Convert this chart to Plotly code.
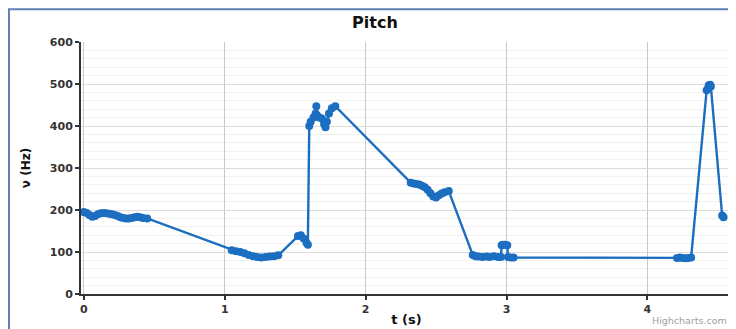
import plotly.graph_objects as go

# ---- data ----
t_s = [
    0.00, 0.02, 0.04, 0.06, 0.08, 0.10, 0.12, 0.14, 0.16, 0.18, 0.20, 0.22,
    0.24, 0.26, 0.28, 0.30, 0.32, 0.34, 0.36, 0.38, 0.40, 0.42, 0.45,
    1.05, 1.08, 1.11, 1.14, 1.17, 1.20, 1.23, 1.26, 1.29, 1.32, 1.35, 1.38,
    1.52, 1.54, 1.56, 1.58, 1.59,
    1.60, 1.61, 1.63, 1.645, 1.65, 1.655, 1.67, 1.69, 1.705, 1.715, 1.725,
    1.74, 1.76, 1.785,
    2.32, 2.34, 2.36, 2.38, 2.40, 2.42, 2.44, 2.46, 2.48, 2.50, 2.52, 2.54,
    2.56, 2.59,
    2.76, 2.78, 2.80, 2.83, 2.86, 2.88, 2.91, 2.94, 2.96, 2.965, 2.975, 2.99,
    3.005, 3.01, 3.03, 3.05,
    4.21, 4.23, 4.25, 4.27, 4.29, 4.31,
    4.42, 4.43, 4.435, 4.445, 4.45, 4.53, 4.54,
]
pitch_hz = [
    195, 193, 188, 184, 186, 190, 192, 193, 192, 191, 190, 188,
    186, 183, 181, 180, 180, 181, 183, 184, 183, 181, 180,
    104, 102, 100, 97, 93, 90, 88, 87, 88, 89, 90, 92,
    138, 140, 132, 122, 117,
    400, 410, 420, 430, 447, 425, 420, 418, 405, 397, 410,
    430, 442, 447,
    265, 263, 262, 261, 258, 254, 248, 240, 232, 230, 235, 239,
    242, 245,
    93, 90, 89, 88, 89, 88, 90, 88, 88, 116, 117, 117,
    116, 88, 87, 87,
    86, 87, 86, 85, 86, 87,
    485, 490, 497, 498, 494, 187, 183,
]
x_ticks = [0, 1, 2, 3, 4]
y_ticks = [0, 100, 200, 300, 400, 500, 600]

BLUE = "#1b6ec0"
FONT = "DejaVu Sans"

fig = go.Figure()
fig.add_trace(go.Scatter(
    x=t_s, y=pitch_hz, mode="lines+markers",
    line=dict(color=BLUE, width=2.4),
    marker=dict(color=BLUE, size=8, line=dict(width=0)),
    showlegend=False,
))

# page body has an 8px margin, so the figure is laid out 8px in from the window
OFF = 8
W, H = 736 - OFF, 329 - OFF
L, R, T, B = 73, 4, 34, 33
pw, ph = W - L - R, H - T - B

def px_x(p):  # p in window pixels
    return (p - OFF - L) / pw

def px_y(p):
    return (H - B - (p - OFF)) / ph

fig.update_layout(
    width=W, height=H,
    margin=dict(l=L, r=R, t=T, b=B),
    paper_bgcolor="white", plot_bgcolor="white",
    font=dict(family=FONT, color="#333333"),
    title=dict(text="<b>Pitch</b>", x=0.504, xref="container", xanchor="center",
               y=1 - 14 / H, yanchor="middle",
               font=dict(family=FONT, size=16, color="#111111")),
    xaxis=dict(
        range=[-0.02, 4.6], tickvals=x_ticks,
        showgrid=True, gridcolor="#c8c8c8", gridwidth=1,
        zeroline=False,
        showline=True, linecolor="#333333", linewidth=2,
        ticks="outside", ticklen=4, tickwidth=2, tickcolor="#333333",
        tickfont=dict(family=FONT, size=11, color="#333333", weight="bold"),
        title=dict(text="<b>t (s)</b>", standoff=0,
                   font=dict(family=FONT, size=13, color="#111111")),
    ),
    yaxis=dict(
        range=[0, 600], tickvals=y_ticks,
        showgrid=True, gridcolor="#dcdcdc", gridwidth=1,
        minor=dict(dtick=20, showgrid=True, gridcolor="#f1f1f1", gridwidth=1),
        zeroline=False,
        showline=True, linecolor="#333333", linewidth=2,
        ticks="outside", ticklen=4, tickwidth=2, tickcolor="#333333",
        tickfont=dict(family=FONT, size=11, color="#333333", weight="bold"),
        title=dict(text="<b>ν (Hz)</b>", standoff=17,
                   font=dict(family=FONT, size=12, color="#111111")),
    ),
    shapes=[
        dict(type="rect", xref="paper", yref="paper",
             x0=px_x(9), x1=px_x(734), y0=px_y(345), y1=px_y(9),
             line=dict(color="#5f82b4", width=2), fillcolor="rgba(0,0,0,0)",
             layer="above"),
        dict(type="line", xref="paper", yref="paper",
             x0=1, x1=1, y0=0, y1=1,
             line=dict(color="#c0c0c0", width=1)),
    ],
    annotations=[
        dict(text="Highcharts.com", xref="paper", yref="paper",
             x=px_x(729), y=px_y(323), xanchor="right", yanchor="middle",
             showarrow=False,
             font=dict(family=FONT, size=9.5, color="#a0a0a0")),
    ],
)

fig.write_html("out.html")
